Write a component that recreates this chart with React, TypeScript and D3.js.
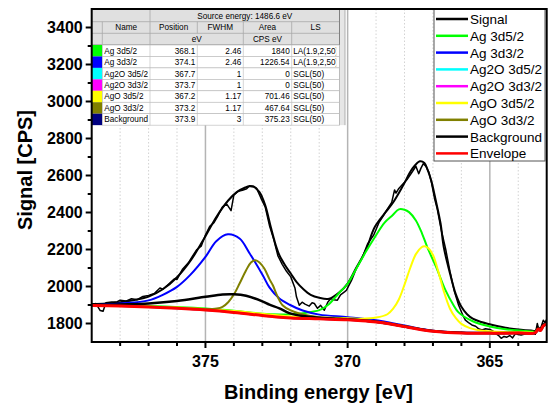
import React from 'react';
import * as d3 from 'd3';

type P = [number, number];

// ---------- axis / tick data ----------
const xDomain: [number, number] = [379, 363];
const yDomain: [number, number] = [1700, 3500];
const xMajorTicks = [375, 370, 365];
const xMinorTicks = [378, 377, 376, 374, 373, 372, 371, 369, 368, 367, 366, 364];
const yMajorTicks = [1800, 2000, 2200, 2400, 2600, 2800, 3000, 3200, 3400];
const yMinorTicks = [1900, 2100, 2300, 2500, 2700, 2900, 3100, 3300];
const xTitle = 'Binding energy [eV]';
const yTitle = 'Signal [CPS]';

// ---------- series (binding energy eV, CPS) ----------
const signal: P[] = [
  [379.0, 1900], [378.85, 1908], [378.7, 1870], [378.6, 1866], [378.5, 1912], [378.3, 1916], [378.1, 1918],
  [378.0, 1926], [377.8, 1921], [377.6, 1934], [377.4, 1929], [377.2, 1946], [377.0, 1951], [376.8, 1962],
  [376.6, 1992], [376.5, 1985], [376.3, 2012], [376.1, 2040], [376.0, 2038], [375.8, 2095], [375.6, 2128],
  [375.45, 2165], [375.3, 2200], [375.15, 2218], [375.0, 2278], [374.85, 2325], [374.7, 2345], [374.55, 2385],
  [374.4, 2430], [374.25, 2445], [374.1, 2410], [374.0, 2495], [373.85, 2515], [373.7, 2520], [373.55, 2528],
  [373.45, 2545], [373.3, 2542], [373.2, 2530], [373.05, 2478], [372.9, 2430], [372.75, 2330], [372.6, 2255],
  [372.45, 2165], [372.3, 2120], [372.15, 2082], [372.0, 2052], [371.85, 1990], [371.8, 1944], [371.7, 1899],
  [371.6, 1915], [371.5, 1905], [371.35, 1894], [371.25, 1912], [371.17, 1908], [371.06, 1882], [370.95, 1898],
  [370.82, 1872], [370.7, 1915], [370.59, 1935], [370.5, 1928], [370.36, 1926], [370.25, 1955], [370.1, 1972],
  [370.04, 1980], [369.86, 2034], [369.7, 2095], [369.5, 2151], [369.3, 2230], [369.09, 2276], [368.9, 2345],
  [368.75, 2380], [368.6, 2420], [368.45, 2455], [368.35, 2522], [368.3, 2505], [368.2, 2530], [368.05, 2555],
  [367.9, 2580], [367.75, 2615], [367.6, 2650], [367.5, 2610], [367.42, 2640], [367.34, 2664], [367.25, 2650],
  [367.15, 2620], [367.05, 2560], [366.95, 2480], [366.85, 2420], [366.7, 2300], [366.55, 2200], [366.4, 2080],
  [366.25, 1975], [366.1, 1900], [365.95, 1845], [365.86, 1818], [365.75, 1805], [365.63, 1792], [365.5, 1785],
  [365.38, 1770], [365.27, 1765], [365.15, 1772], [365.0, 1768], [364.9, 1760], [364.8, 1747], [364.7, 1736],
  [364.6, 1720], [364.5, 1730], [364.4, 1726], [364.3, 1735], [364.2, 1722], [364.1, 1745], [364.0, 1740],
  [363.9, 1738], [363.8, 1742], [363.7, 1748], [363.6, 1744], [363.5, 1746], [363.4, 1742], [363.33, 1800],
  [363.27, 1760], [363.2, 1780], [363.12, 1818], [363.06, 1805], [363.0, 1822],
];

const fitSum: P[] = [
  [379, 1905], [378.5, 1908], [378, 1915], [377.5, 1927], [377, 1945], [376.5, 1985], [376, 2050],
  [375.5, 2145], [375, 2272], [374.6, 2380], [374.2, 2465], [373.9, 2510], [373.6, 2535], [373.45, 2542],
  [373.3, 2538], [373.1, 2510], [372.9, 2440], [372.7, 2320], [372.5, 2210], [372.4, 2169], [372.2, 2115],
  [372, 2070], [371.8, 2025], [371.58, 1989], [371.3, 1955], [371, 1939], [370.65, 1934], [370.3, 1968],
  [370, 2016], [369.71, 2097], [369.36, 2196], [369.05, 2320], [368.7, 2395], [368.42, 2450], [368.05, 2546],
  [367.73, 2636], [367.46, 2677], [367.3, 2668], [367.2, 2636], [367.06, 2573], [366.9, 2465], [366.73, 2339],
  [366.62, 2213], [366.4, 2070], [366.2, 1960], [366.0, 1890], [365.8, 1850], [365.6, 1826], [365.3, 1808],
  [365.04, 1797], [364.45, 1777], [363.9, 1766], [363.5, 1761], [363.4, 1760], [363.3, 1778], [363.22, 1770],
  [363.12, 1795], [363, 1805],
];

const ag3d52: P[] = [
  [379, 1900], [377, 1894], [375, 1881], [374, 1869], [373, 1853], [372.4, 1849], [372, 1850], [371.5, 1857],
  [371, 1872], [370.8, 1888], [370.65, 1905], [370.3, 1965], [370, 2015], [369.7, 2095], [369.35, 2190],
  [369.05, 2265], [368.7, 2345], [368.42, 2385], [368.2, 2417], [368.0, 2415], [367.84, 2402], [367.6, 2357],
  [367.38, 2285], [367.2, 2213], [366.9, 2110], [366.56, 1980], [366.3, 1905], [366.1, 1860], [365.6, 1812],
  [365.0, 1784], [364.45, 1769], [363.5, 1757], [363.4, 1756], [363.3, 1772], [363.22, 1764], [363.12, 1788],
  [363, 1798],
];

const ag3d32: P[] = [
  [379, 1899], [378, 1908], [377, 1925], [376.5, 1955], [376, 1998], [375.55, 2060], [375, 2160],
  [374.62, 2245], [374.21, 2282], [373.8, 2259], [373.45, 2180], [372.98, 2060], [372.75, 1995],
  [372.4, 1935], [372.02, 1900], [371.58, 1870], [371.0, 1848], [370, 1834], [369, 1817], [368, 1789],
  [367, 1761], [366, 1751], [365, 1749], [364, 1749], [363.4, 1751], [363.3, 1770], [363.22, 1762],
  [363.12, 1787], [363, 1797],
];

const envelopeBase: P[] = [
  [379, 1897], [378, 1894], [377, 1889], [376, 1882], [375, 1873], [374, 1860], [373, 1843], [372.5, 1835],
  [372, 1830], [371, 1825], [370, 1820], [369.5, 1815], [369, 1808], [368.5, 1797], [368, 1783],
  [367.5, 1769], [367, 1758], [366.5, 1752], [366, 1749], [365, 1747], [364, 1748], [363.4, 1750],
  [363.3, 1770], [363.22, 1762], [363.12, 1787], [363, 1797],
];

// Ag2O components have zero area, so they sit on the envelope line
const ag2o3d52: P[] = envelopeBase.map((p) => [p[0], p[1]] as P);
const ag2o3d32: P[] = envelopeBase.map((p) => [p[0], p[1]] as P);

const ago3d52: P[] = [
  [379, 1899], [376, 1886], [374, 1867], [372, 1838], [370, 1829], [369.5, 1826], [369, 1832], [368.6, 1850],
  [368.4, 1880], [368.2, 1930], [368.0, 2010], [367.8, 2100], [367.6, 2175], [367.4, 2212], [367.3, 2217],
  [367.15, 2205], [367.0, 2170], [366.8, 2075], [366.6, 1965], [366.4, 1880], [366.2, 1830], [366.0, 1798],
  [365.7, 1775], [365.4, 1764], [365.0, 1758], [364.5, 1754], [363.5, 1752], [363.4, 1751], [363.3, 1770],
  [363.22, 1762], [363.12, 1787], [363, 1797],
];

const ago3d32: P[] = [
  [379, 1898], [377, 1891], [375.5, 1881], [375, 1878], [374.6, 1881], [374.4, 1890], [374.2, 1915],
  [373.98, 1962], [373.8, 2016], [373.57, 2088], [373.4, 2130], [373.24, 2142], [373.1, 2130], [372.93, 2097],
  [372.75, 2040], [372.63, 2007], [372.52, 1965], [372.4, 1925], [372.29, 1899], [372.02, 1872], [371.7, 1854],
  [371.3, 1840], [371, 1834], [370, 1825], [369, 1811], [368, 1786], [367, 1760], [366, 1750], [365, 1748],
  [364, 1749], [363.4, 1751], [363.3, 1770], [363.22, 1762], [363.12, 1787], [363, 1797],
];

const backgroundComp: P[] = [
  [379, 1899], [378, 1903], [377, 1908], [376, 1921], [375, 1944], [374.4, 1957], [374, 1958], [373.57, 1950],
  [373, 1920], [372.75, 1902], [372.4, 1882], [372.05, 1856], [371.58, 1840], [371, 1831], [370.5, 1826],
  [370, 1822], [369, 1809], [368, 1784], [367, 1759], [366, 1750], [365, 1748], [364, 1749], [363.4, 1751],
  [363.3, 1771], [363.22, 1763], [363.12, 1788], [363, 1798],
];

// ---------- legend ----------
const legendNames = ['Signal', 'Ag 3d5/2', 'Ag 3d3/2', 'Ag2O 3d5/2', 'Ag2O 3d3/2', 'AgO 3d5/2', 'AgO 3d3/2', 'Background', 'Envelope'];
const legendColors = ['#000000', '#00ff00', '#0000ff', '#00ffff', '#ff00ff', '#ffff00', '#808000', '#000000', '#ff0000'];

// ---------- fit table ----------
const sourceEnergyLabel = 'Source energy: 1486.6 eV';
const tableHeaders = ['Name', 'Position', 'FWHM', 'Area', 'LS'];
const tableNames = ['Ag 3d5/2', 'Ag 3d3/2', 'Ag2O 3d5/2', 'Ag2O 3d3/2', 'AgO 3d5/2', 'AgO 3d3/2', 'Background'];
const tablePositions = ['368.1', '374.1', '367.7', '373.7', '367.2', '373.2', '373.9'];
const tableFwhm = ['2.46', '2.46', '1', '1', '1.17', '1.17', '3'];
const tableAreas = ['1840', '1226.54', '0', '0', '701.46', '467.64', '375.23'];
const tableLs = ['LA(1.9,2,50)', 'LA(1.9,2,50)', 'SGL(50)', 'SGL(50)', 'SGL(50)', 'SGL(50)', 'SGL(50)'];
const tableSwatches = ['#00ff00', '#0000ff', '#00ffff', '#ff00ff', '#ffff00', '#808000', '#000080'];

const FONT = "Arial, 'Liberation Sans', sans-serif";

export default function App() {
  const W = 560, H = 409;
  const L = 91.7, R = 546.7, T = 9, B = 342;
  const x = d3.scaleLinear().domain(xDomain).range([L, R]);
  const y = d3.scaleLinear().domain(yDomain).range([B, T]);

  const smooth = d3.line<P>().x((d) => x(d[0])).y((d) => y(d[1])).curve(d3.curveCatmullRom.alpha(0.5));
  const raw = d3.line<P>().x((d) => x(d[0])).y((d) => y(d[1])).curve(d3.curveLinear);

  const gridAll = [...xMajorTicks, ...xMinorTicks];

  // table geometry
  const colX = [92, 102.3, 150, 197.3, 243.3, 291.7, 339.5];
  const tblRight = 345;
  const hdrY = [9, 21.7, 33.3, 45];
  const rowH = 11.45;
  const dataTop = 45;
  const tableBottom = dataTop + rowH * tableNames.length;

  const legX0 = 434, legX1 = 545, legY0 = 9, legY1 = 161;

  return (
    <svg width={W} height={H} style={{ position: 'absolute', left: 0, top: 0, background: '#fff' }} fontFamily={FONT}>
      <defs>
        <clipPath id="plotClip">
          <rect x={L} y={T} width={R - L} height={B - T} />
        </clipPath>
        <clipPath id="lsClip">
          <rect x={colX[5]} y={dataTop} width={44.5} height={tableBottom - dataTop} />
        </clipPath>
      </defs>
      <rect x={0} y={0} width={W} height={H} fill="#fff" />

      {/* vertical grid */}
      {gridAll.map((t) =>
        xMajorTicks.includes(t) ? (
          <line key={'g' + t} x1={x(t)} x2={x(t)} y1={T} y2={B} stroke="#b4b4b4" strokeWidth={1.5} />
        ) : (
          <line key={'g' + t} x1={x(t)} x2={x(t)} y1={T} y2={B} stroke="#c8c8c8" strokeWidth={0.8} strokeDasharray="1.5,2" />
        )
      )}

      {/* curves */}
      <g clipPath="url(#plotClip)" fill="none" strokeLinejoin="round" strokeLinecap="round">
        <path d={raw(signal) || ''} stroke="#000" strokeWidth={1.5} />
        <path d={smooth(fitSum) || ''} stroke="#000" strokeWidth={2} />
        <path d={smooth(ag3d52) || ''} stroke="#00ff00" strokeWidth={2} />
        <path d={smooth(ag3d32) || ''} stroke="#0000ff" strokeWidth={2} />
        <path d={smooth(ag2o3d52) || ''} stroke="#00ffff" strokeWidth={2} />
        <path d={smooth(ag2o3d32) || ''} stroke="#ff00ff" strokeWidth={2} />
        <path d={smooth(ago3d52) || ''} stroke="#ffff00" strokeWidth={2} />
        <path d={smooth(ago3d32) || ''} stroke="#808000" strokeWidth={2} />
        <path d={smooth(backgroundComp) || ''} stroke="#000" strokeWidth={2.5} />
        <path d={smooth(envelopeBase) || ''} stroke="#ff0000" strokeWidth={3} />
      </g>

      {/* fit table */}
      <g fontSize={8.2} fill="#000">
        <rect x={colX[0]} y={T} width={tblRight - colX[0]} height={tableBottom - T} fill="#e6e6e6" />
        <rect x={colX[0]} y={hdrY[0]} width={colX[6] - colX[0]} height={hdrY[3] - hdrY[0]} fill="#e0e0e0" />
        {hdrY.slice(1).map((yy, i) => (
          <line key={'hl' + i} x1={colX[0]} x2={colX[6]} y1={yy} y2={yy} stroke={i === 2 ? '#707070' : '#a8a8a8'} strokeWidth={0.8} />
        ))}
        <line x1={colX[2]} x2={colX[2]} y1={hdrY[0]} y2={tableBottom} stroke="#a8a8a8" strokeWidth={0.8} />
        <line x1={colX[1]} x2={colX[1]} y1={hdrY[1]} y2={tableBottom} stroke="#a8a8a8" strokeWidth={0.8} />
        <line x1={colX[3]} x2={colX[3]} y1={hdrY[1]} y2={hdrY[2]} stroke="#a8a8a8" strokeWidth={0.8} />
        <line x1={colX[4]} x2={colX[4]} y1={hdrY[1]} y2={hdrY[3]} stroke="#a8a8a8" strokeWidth={0.8} />
        <line x1={colX[5]} x2={colX[5]} y1={hdrY[1]} y2={hdrY[3]} stroke="#a8a8a8" strokeWidth={0.8} />
        <line x1={colX[6]} x2={colX[6]} y1={T} y2={tableBottom} stroke="#808080" strokeWidth={1} />
        <line x1={tblRight} x2={tblRight} y1={T} y2={tableBottom} stroke="#a0a0a0" strokeWidth={0.8} />
        <text x={(colX[2] + colX[6]) / 2} y={hdrY[1] - 3} textAnchor="middle">{sourceEnergyLabel}</text>
        {tableHeaders.map((h, i) => (
          <text key={'h' + i} x={(colX[i + 1] + colX[i + 2]) / 2} y={hdrY[2] - 3} textAnchor="middle">{h}</text>
        ))}
        <text x={(colX[2] + colX[4]) / 2} y={hdrY[3] - 3} textAnchor="middle">eV</text>
        <text x={(colX[4] + colX[5]) / 2} y={hdrY[3] - 3} textAnchor="middle">CPS eV</text>
        {tableNames.map((n, i) => {
          const y0 = dataTop + i * rowH;
          return (
            <g key={'r' + i}>
              <rect x={colX[0]} y={y0} width={colX[1] - colX[0]} height={rowH} fill={tableSwatches[i]} />
              <rect x={colX[1]} y={y0} width={colX[6] - colX[1]} height={rowH} fill="#fff" stroke="#b8b8b8" strokeWidth={0.6} />
              {[2, 3, 4, 5].map((c) => (
                <line key={c} x1={colX[c]} x2={colX[c]} y1={y0} y2={y0 + rowH} stroke="#b8b8b8" strokeWidth={0.6} />
              ))}
              <text x={colX[1] + 2} y={y0 + rowH - 2.8}>{n}</text>
              <text x={colX[3] - 2} y={y0 + rowH - 2.8} textAnchor="end">{tablePositions[i]}</text>
              <text x={colX[4] - 2} y={y0 + rowH - 2.8} textAnchor="end">{tableFwhm[i]}</text>
              <text x={colX[5] - 2} y={y0 + rowH - 2.8} textAnchor="end">{tableAreas[i]}</text>
              <text x={colX[5] + 1.5} y={y0 + rowH - 2.8} clipPath="url(#lsClip)">{tableLs[i]}</text>
            </g>
          );
        })}
      </g>

      {/* legend */}
      <g>
        <rect x={legX0} y={legY0} width={legX1 - legX0} height={legY1 - legY0} fill="#fff" stroke="#555" strokeWidth={1} />
        {legendNames.map((n, i) => {
          const yy = 19 + i * 16.8;
          return (
            <g key={'lg' + i}>
              <line x1={436} x2={468} y1={yy} y2={yy} stroke={legendColors[i]} strokeWidth={2.5} />
              <text x={470} y={yy + 5} fontSize={13.5} fill="#000">{n}</text>
            </g>
          );
        })}
      </g>

      {/* frame */}
      <rect x={L} y={T} width={R - L} height={B - T} fill="none" stroke="#000" strokeWidth={2} />

      {/* y axis ticks */}
      {yMajorTicks.map((t) => (
        <g key={'ym' + t}>
          <line x1={L - 6} x2={L} y1={y(t)} y2={y(t)} stroke="#000" strokeWidth={2} />
          <text x={L - 9} y={y(t)} dy="0.36em" textAnchor="end" fontSize={16} fontWeight="bold">{t}</text>
        </g>
      ))}
      {yMinorTicks.map((t) => (
        <line key={'yn' + t} x1={L - 4} x2={L} y1={y(t)} y2={y(t)} stroke="#000" strokeWidth={2} />
      ))}

      {/* x axis ticks */}
      {xMajorTicks.map((t) => (
        <g key={'xm' + t}>
          <line x1={x(t)} x2={x(t)} y1={B} y2={B + 6} stroke="#000" strokeWidth={2} />
          <text x={x(t)} y={367} textAnchor="middle" fontSize={16} fontWeight="bold">{t}</text>
        </g>
      ))}
      {xMinorTicks.map((t) => (
        <line key={'xn' + t} x1={x(t)} x2={x(t)} y1={B} y2={B + 4} stroke="#000" strokeWidth={2} />
      ))}

      {/* titles */}
      <text x={318.5} y={399} textAnchor="middle" fontSize={20} fontWeight="bold">{xTitle}</text>
      <text transform="translate(32,170) rotate(-90)" textAnchor="middle" fontSize={20} fontWeight="bold">{yTitle}</text>
    </svg>
  );
}
